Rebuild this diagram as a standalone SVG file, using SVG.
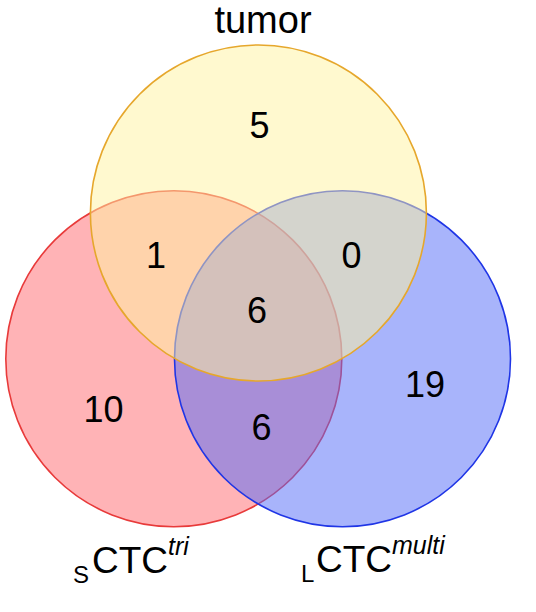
<svg xmlns="http://www.w3.org/2000/svg" width="536" height="612" viewBox="0 0 536 612">
<style>
text { font-family: "Liberation Sans", Arial, sans-serif; fill: #000; }
.num { font-size: 36px; text-anchor: middle; }
.ttl { font-size: 38px; text-anchor: middle; }
.big { font-size: 37px; }
.sub { font-size: 24px; }
.sup { font-size: 25px; font-style: italic; }
</style>
<rect width="536" height="612" fill="#fff"/>
<g id="sets">
  <g id="sctc">
    <circle cx="173.8" cy="358.7" r="168" fill="#ffb3b6" stroke="#e83a3a" stroke-width="1.6"/>
  </g>
  <g id="lctc">
    <circle cx="342.5" cy="358.7" r="168" fill="#5169f7" fill-opacity="0.5" stroke="#1f35e6" stroke-width="1.6"/>
  </g>
  <g id="tumor">
    <circle cx="258.4" cy="213" r="168" fill="#fff4a0" fill-opacity="0.5" stroke="#e6a72c" stroke-width="1.6"/>
  </g>
</g>
<g id="labels">
  <text class="ttl" x="263" y="33">tumor</text>
  <text class="num" x="259.5" y="138">5</text>
  <text class="num" x="156" y="268">1</text>
  <text class="num" x="351.5" y="268">0</text>
  <text class="num" x="257" y="323">6</text>
  <text class="num" x="425" y="397">19</text>
  <text class="num" x="103.5" y="422">10</text>
  <text class="num" x="261.5" y="440">6</text>
  <text><tspan class="sub" x="73" y="583">S</tspan><tspan class="big" x="92" y="573">CTC</tspan><tspan class="sup" y="555">tri</tspan></text>
  <text><tspan class="sub" x="301" y="582">L</tspan><tspan class="big" x="316" y="572">CTC</tspan><tspan class="sup" y="554">multi</tspan></text>
</g>
</svg>
